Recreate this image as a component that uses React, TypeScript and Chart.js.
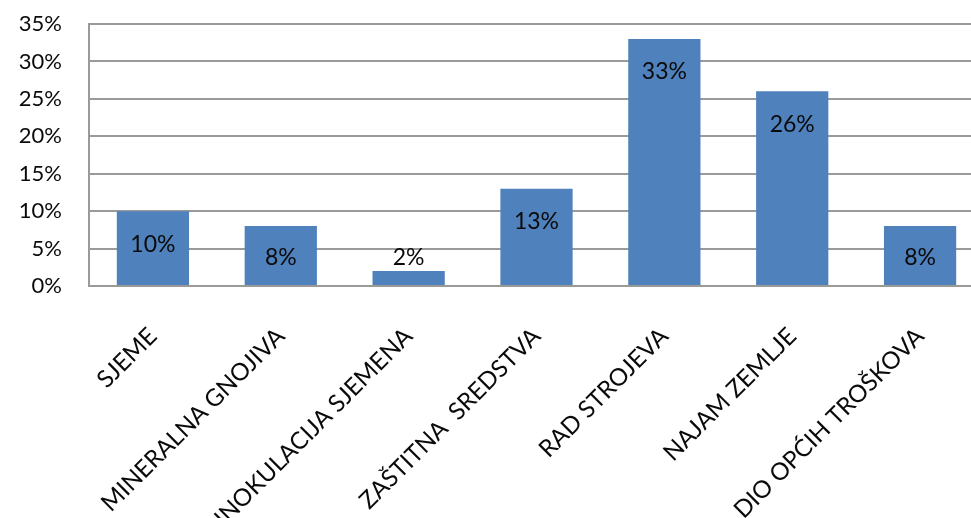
import { useEffect, useRef } from "react";
import { Chart, registerables } from "chart.js";

Chart.register(...registerables);

const categories = [
  "SJEME",
  "MINERALNA GNOJIVA",
  "INOKULACIJA SJEMENA",
  "ZAŠTITNA  SREDSTVA",
  "RAD STROJEVA",
  "NAJAM ZEMLJE",
  "DIO OPĆIH TROŠKOVA",
];
const values = [10, 8, 2, 13, 33, 26, 8];
const yMin = 0;
const yMax = 35;
const yStep = 5;

const FONT = "Lato, 'Open Sans', sans-serif";

const dataLabelPlugin = {
  id: "dataLabels",
  afterDatasetsDraw(chart: any) {
    const ctx = chart.ctx;
    const meta = chart.getDatasetMeta(0);
    const base = chart.scales.y.getPixelForValue(0);
    ctx.save();
    ctx.font = `23px ${FONT}`;
    ctx.fillStyle = "#0a0a0a";
    ctx.textAlign = "center";
    ctx.textBaseline = "middle";
    meta.data.forEach((bar: any, i: number) => {
      const y = Math.min(bar.y + 33, base - 28);
      ctx.fillText(values[i] + "%", bar.x, y);
    });
    ctx.restore();
  },
};

export default function App() {
  const ref = useRef<HTMLCanvasElement | null>(null);
  useEffect(() => {
    if (!ref.current) return;
    const chart = new Chart(ref.current, {
      type: "bar",
      data: {
        labels: categories,
        datasets: [
          {
            data: values,
            backgroundColor: "#4F81BD",
            borderWidth: 0,
            barPercentage: 0.565,
            categoryPercentage: 1,
          },
        ],
      },
      options: {
        animation: false,
        responsive: true,
        maintainAspectRatio: false,
        layout: { padding: { top: 24, left: 0, right: 0, bottom: 0 } },
        plugins: { legend: { display: false }, tooltip: { enabled: false } },
        scales: {
          x: {
            grid: { display: false, drawTicks: false },
            border: { display: true, color: "#9a9a9a", width: 2 },
            ticks: {
              minRotation: 45,
              maxRotation: 45,
              autoSkip: false,
              padding: 36,
              color: "#0a0a0a",
              font: { family: FONT, size: 24 },
            },
            afterFit: (s: any) => {
              s.height = 232;
            },
          },
          y: {
            min: yMin,
            max: yMax,
            grid: { color: "#9a9a9a", lineWidth: 2, drawTicks: false },
            border: { display: true, color: "#9a9a9a", width: 2 },
            ticks: {
              stepSize: yStep,
              padding: 27,
              color: "#0a0a0a",
              font: { family: FONT, size: 22 },
              callback: (v: any) => v + "%",
            },
            afterFit: (s: any) => {
              s.width = 89;
              s.paddingTop = 0;
              s.paddingBottom = 0;
            },
          },
        },
      },
      plugins: [dataLabelPlugin],
    });
    return () => chart.destroy();
  }, []);
  return (
    <div
      style={{
        position: "fixed",
        left: 0,
        top: 0,
        width: 971,
        height: 518,
        overflow: "hidden",
        background: "#fff",
      }}
    >
      <div style={{ position: "relative", width: 984, height: 518 }}>
        <canvas ref={ref} />
      </div>
    </div>
  );
}
